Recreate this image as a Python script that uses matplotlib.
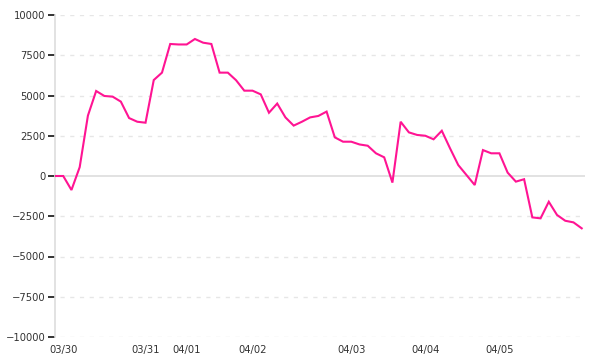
import matplotlib
matplotlib.use("Agg")
import matplotlib.pyplot as plt
import numpy as np

# --- data ---
values = [0, 0, -870, 550, 3750, 5280, 4970, 4930, 4620, 3600,
          3370, 3310, 5960, 6420, 8200, 8170, 8170, 8510, 8280, 8200,
          6420, 6420, 5950, 5300, 5300, 5070, 3930, 4500, 3640, 3130,
          3370, 3640, 3730, 4000, 2400, 2130, 2130, 1960, 1880, 1410,
          1160, -410, 3370, 2710, 2550, 2500, 2280, 2810, 1720, 680,
          60, -560, 1610, 1410, 1410, 210, -350, -200, -2570, -2630,
          -1600, -2420, -2780, -2880, -3250]
xtick_positions = [1, 11, 16, 24, 36, 45, 54]
xtick_labels = ["03/30", "03/31", "04/01", "04/02", "04/03", "04/04", "04/05"]
yticks = [-10000, -7500, -5000, -2500, 0, 2500, 5000, 7500, 10000]
ytick_labels = ["\u221210000", "\u22127500", "\u22125000", "\u22122500", "0",
                "2500", "5000", "7500", "10000"]

fig = plt.figure(figsize=(6, 3.6), dpi=100)
ax = fig.add_axes([55/600, 1-337/360, 530/600, 322/360])

x = np.arange(len(values))
ax.plot(x, values, color="#ff1493", linewidth=1.5, solid_joinstyle="miter", zorder=3)

ax.set_xlim(0, 64.4)
ax.set_ylim(-10000, 10000)

# grid lines
for yv in yticks:
    if yv == 0:
        ax.axhline(0, color="#dddddd", linewidth=1.2, zorder=1)
    else:
        ax.axhline(yv, xmin=5/530, color="#e6e6e6", linewidth=1.0,
                   linestyle=(0, (3, 4)), zorder=1)

ax.set_yticks(yticks)
ax.set_yticklabels(ytick_labels)
ax.set_xticks(xtick_positions)
ax.set_xticklabels(xtick_labels)

for s in ["top", "right", "bottom"]:
    ax.spines[s].set_visible(False)
ax.spines["left"].set_color("#dddddd")
ax.spines["left"].set_linewidth(1.2)

ax.tick_params(axis="y", length=5, width=1.2, color="#111111", direction="out",
               pad=2, labelsize=7.2, labelcolor="#333333")
ax.tick_params(axis="x", length=0, pad=5.5, labelsize=7.2, labelcolor="#333333")

fig.savefig("out.png", dpi=100)
